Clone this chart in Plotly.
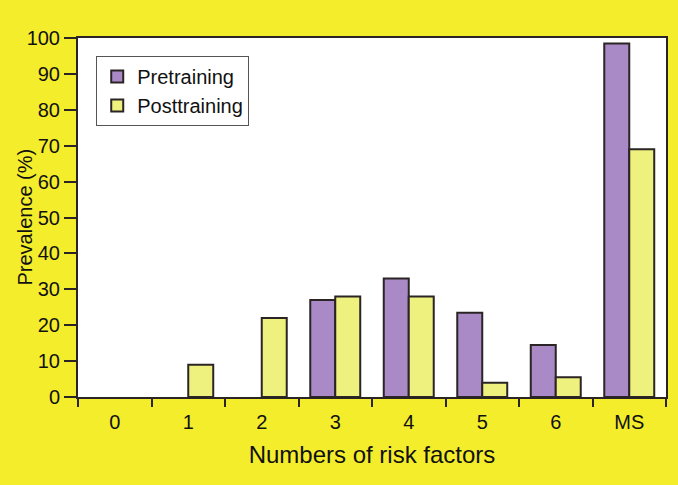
import plotly.graph_objects as go

categories = ["0", "1", "2", "3", "4", "5", "6", "MS"]
pretraining = [0, 0, 0, 27, 33, 23.5, 14.5, 98.5]
posttraining = [0, 9, 22, 28, 28, 4, 5.5, 69]

YELLOW = "#f4ed2c"
PURPLE = "#a98ac6"
PALE = "#eef17e"
EDGE = "#2b2424"
FONT = "Liberation Sans, Arial, sans-serif"


def nonzero(values):
    return [v if v else None for v in values]


fig = go.Figure()
fig.add_trace(go.Bar(x=categories, y=nonzero(pretraining), name="Pretraining",
                     marker=dict(color=PURPLE, line=dict(color=EDGE, width=2))))
fig.add_trace(go.Bar(x=categories, y=nonzero(posttraining), name="Posttraining",
                     marker=dict(color=PALE, line=dict(color=EDGE, width=2))))

fig.update_layout(
    width=678, height=485,
    paper_bgcolor=YELLOW, plot_bgcolor="white",
    margin=dict(l=78, r=12, t=38, b=88, autoexpand=False),
    barmode="group", bargap=0.32, bargroupgap=0.0,
    font=dict(family=FONT, size=20, color="#111111"),
    legend=dict(x=0.031, y=0.95, xanchor="left", yanchor="top",
                bgcolor="white", bordercolor="#555555", borderwidth=1,
                font=dict(size=20), tracegroupgap=0),
    xaxis=dict(type="category", tickson="boundaries", ticks="outside", ticklen=8,
               tickcolor=EDGE, tickwidth=2, showline=True, linecolor=EDGE, linewidth=2,
               mirror=True, showgrid=False, automargin=False, ticklabelstandoff=6,
               title=dict(text="Numbers of risk factors", standoff=14)),
    yaxis=dict(range=[0, 100], dtick=10, ticks="outside", ticklen=12, tickcolor=EDGE,
               tickwidth=2, showline=True, linecolor=EDGE, linewidth=2, mirror=True,
               showgrid=False, zeroline=False, automargin=False),
    annotations=[dict(text="Prevalence (%)", textangle=-90, xref="paper", yref="paper",
                      x=-(78 - 24) / 588, y=0.5, xanchor="center", yanchor="middle",
                      showarrow=False, font=dict(size=20))],
)

fig.write_html("out.html", config={"displayModeBar": False},
               post_script="document.body.style.margin='0';")
